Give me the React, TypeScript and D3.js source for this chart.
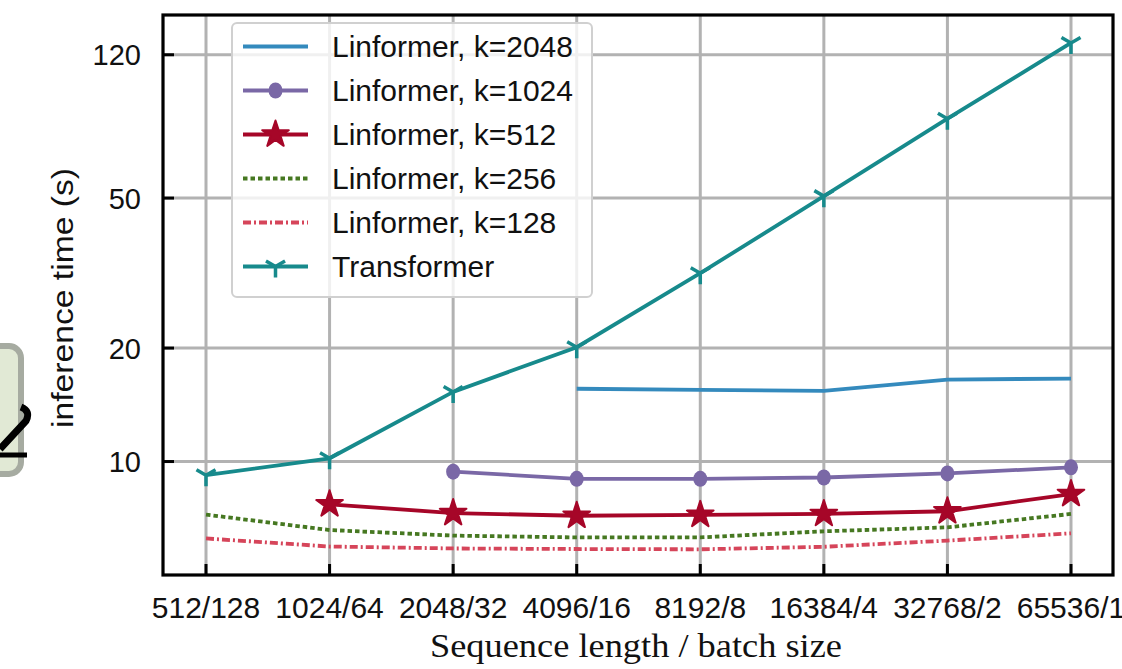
import React, { useEffect, useRef } from 'react';
import * as d3 from 'd3';

const categories = ['512/128', '1024/64', '2048/32', '4096/16', '8192/8', '16384/4', '32768/2', '65536/1'];
const yTicks = [10, 20, 50, 120];

const transformer = [9.2, 10.2, 15.3, 20.1, 31.6, 50.6, 81.2, 129];
const k2048 = [null, null, null, 15.6, 15.5, 15.4, 16.5, 16.6];
const k1024 = [null, null, 9.4, 9.0, 9.0, 9.07, 9.3, 9.65];
const k512 = [null, 7.7, 7.3, 7.18, 7.22, 7.26, 7.38, 8.2];
const k256 = [7.23, 6.58, 6.36, 6.29, 6.29, 6.53, 6.69, 7.26];
const k128 = [6.25, 5.95, 5.88, 5.86, 5.85, 5.94, 6.17, 6.45];

type Series = {
  name: string;
  values: (number | null)[];
  color: string;
  dash?: string;
  marker?: 'circle' | 'star' | 'tri';
};

const series: Series[] = [
  { name: 'Linformer, k=2048', values: k2048, color: '#348ABD' },
  { name: 'Linformer, k=1024', values: k1024, color: '#7A68A6', marker: 'circle' },
  { name: 'Linformer, k=512', values: k512, color: '#A60628', marker: 'star' },
  { name: 'Linformer, k=256', values: k256, color: '#467821', dash: '4.5,3' },
  { name: 'Linformer, k=128', values: k128, color: '#D6455A', dash: '8,3,2,3' },
  { name: 'Transformer', values: transformer, color: '#178A8C', marker: 'tri' },
];

const SANS = '"Liberation Sans", Arial, sans-serif';
const SERIF = '"Liberation Serif", "Times New Roman", serif';

const App: React.FC = () => {
  const svgRef = useRef<SVGSVGElement>(null);

  useEffect(() => {
    if (!svgRef.current) return;
    const svg = d3.select(svgRef.current);
    svg.selectAll('*').remove();

    const left = 163, right = 1113, top = 15, bottom = 575;

    const x = d3.scaleLinear().domain([-0.348, 7.34]).range([left, right]);
    const y = d3.scaleLog().domain([5, 153]).range([bottom, top]);

    // left-edge decoration (cropped box)
    svg.append('rect')
      .attr('x', -30).attr('y', 346).attr('width', 51).attr('height', 128)
      .attr('rx', 12)
      .attr('fill', '#e1e9d5')
      .attr('stroke', '#a6aba1')
      .attr('stroke-width', 6);
    svg.append('path')
      .attr('d', 'M 21 407 Q 31 411 26 421 L 0 449')
      .attr('fill', 'none')
      .attr('stroke', '#000')
      .attr('stroke-width', 7);
    svg.append('line')
      .attr('x1', 0).attr('x2', 27).attr('y1', 455).attr('y2', 455)
      .attr('stroke', '#000').attr('stroke-width', 5);

    const g = svg.append('g');

    // Grid lines
    g.selectAll('.vgrid')
      .data(categories)
      .enter()
      .append('line')
      .attr('x1', (_, i) => x(i)).attr('x2', (_, i) => x(i))
      .attr('y1', top).attr('y2', bottom)
      .attr('stroke', '#b2b2b2').attr('stroke-width', 3);
    g.selectAll('.hgrid')
      .data(yTicks)
      .enter()
      .append('line')
      .attr('x1', left).attr('x2', right)
      .attr('y1', d => y(d)).attr('y2', d => y(d))
      .attr('stroke', '#b2b2b2').attr('stroke-width', 3);

    svg.append('defs').append('clipPath').attr('id', 'plot-clip')
      .append('rect').attr('x', left).attr('y', top)
      .attr('width', right - left).attr('height', bottom - top);

    const line = d3.line<number | null>()
      .defined(d => d != null)
      .x((_, i) => x(i))
      .y(d => y(d as number));

    const drawMarker = (sel: d3.Selection<SVGGElement, unknown, null, undefined>, s: Series, cx: number, cy: number) => {
      if (s.marker === 'circle') {
        sel.append('ellipse').attr('cx', cx).attr('cy', cy).attr('rx', 7).attr('ry', 8).attr('fill', s.color);
      } else if (s.marker === 'star') {
        sel.append('path')
          .attr('d', d3.symbol().type(d3.symbolStar).size(220)())
          .attr('transform', `translate(${cx},${cy})`)
          .attr('fill', s.color)
          .attr('stroke', s.color).attr('stroke-width', 2).attr('stroke-linejoin', 'round');
      } else if (s.marker === 'tri') {
        const r = 11;
        const p = d3.path();
        p.moveTo(cx, cy); p.lineTo(cx, cy + r);
        p.moveTo(cx, cy); p.lineTo(cx - r * 0.866, cy - r * 0.5);
        p.moveTo(cx, cy); p.lineTo(cx + r * 0.866, cy - r * 0.5);
        sel.append('path').attr('d', p.toString())
          .attr('fill', 'none').attr('stroke', s.color).attr('stroke-width', 3.5);
      }
    };

    const plot = g.append('g').attr('clip-path', 'url(#plot-clip)');
    series.forEach(s => {
      plot.append('path')
        .datum(s.values)
        .attr('d', line)
        .attr('fill', 'none')
        .attr('stroke', s.color)
        .attr('stroke-width', 3.8)
        .attr('stroke-dasharray', s.dash || null);
      if (s.marker) {
        const mg = g.append('g');
        s.values.forEach((v, i) => {
          if (v != null) drawMarker(mg, s, x(i), y(v));
        });
      }
    });

    // Spines
    g.append('rect')
      .attr('x', left).attr('y', top)
      .attr('width', right - left).attr('height', bottom - top)
      .attr('fill', 'none').attr('stroke', '#000').attr('stroke-width', 3.2);

    // Ticks (inward)
    g.selectAll('.xtick')
      .data(categories)
      .enter()
      .append('line')
      .attr('x1', (_, i) => x(i)).attr('x2', (_, i) => x(i))
      .attr('y1', bottom).attr('y2', bottom - 11)
      .attr('stroke', '#000').attr('stroke-width', 3);
    g.selectAll('.ytick')
      .data(yTicks)
      .enter()
      .append('line')
      .attr('x1', left).attr('x2', left + 11)
      .attr('y1', d => y(d)).attr('y2', d => y(d))
      .attr('stroke', '#000').attr('stroke-width', 3);

    // Tick labels
    g.selectAll('.xlabel')
      .data(categories)
      .enter()
      .append('text')
      .attr('x', (_, i) => x(i))
      .attr('y', 618)
      .attr('text-anchor', 'middle')
      .style('font-family', SANS)
      .style('font-size', '30px')
      .attr('fill', '#111')
      .text(d => d);
    g.selectAll('.ylabel')
      .data(yTicks)
      .enter()
      .append('text')
      .attr('x', 141)
      .attr('y', d => y(d))
      .attr('dy', '0.36em')
      .attr('text-anchor', 'end')
      .style('font-family', SANS)
      .style('font-size', '29px')
      .attr('fill', '#111')
      .text(d => d);

    // Axis titles
    g.append('text')
      .attr('x', 636).attr('y', 657)
      .attr('text-anchor', 'middle')
      .attr('textLength', 412).attr('lengthAdjust', 'spacingAndGlyphs')
      .style('font-family', SERIF)
      .style('font-size', '33px')
      .attr('fill', '#111')
      .text('Sequence length / batch size');
    g.append('text')
      .attr('transform', 'translate(73,298) rotate(-90)')
      .attr('text-anchor', 'middle')
      .attr('textLength', 260).attr('lengthAdjust', 'spacingAndGlyphs')
      .style('font-family', SANS)
      .style('font-size', '30px')
      .attr('fill', '#111')
      .text('inference time (s)');

    // Legend
    const lg = svg.append('g');
    lg.append('rect')
      .attr('x', 232).attr('y', 23).attr('width', 360).attr('height', 274)
      .attr('rx', 5)
      .attr('fill', 'rgba(255,255,255,0.8)')
      .attr('stroke', '#d0d0d0').attr('stroke-width', 2);
    series.forEach((s, i) => {
      const ly = 46.5 + i * 44;
      lg.append('line')
        .attr('x1', 243).attr('x2', 308)
        .attr('y1', ly).attr('y2', ly)
        .attr('stroke', s.color).attr('stroke-width', 3.8)
        .attr('stroke-dasharray', s.dash || null);
      if (s.marker) drawMarker(lg, s, 275.5, ly);
      lg.append('text')
        .attr('x', 332).attr('y', ly)
        .attr('dy', '0.36em')
        .style('font-family', SANS)
        .style('font-size', '30px')
        .attr('fill', '#111')
        .text(s.name);
    });
  }, []);

  return (
    <svg
      ref={svgRef}
      width={1122}
      height={669}
      style={{ position: 'absolute', left: 0, top: 0, background: '#fff' }}
    />
  );
};

export default App;
